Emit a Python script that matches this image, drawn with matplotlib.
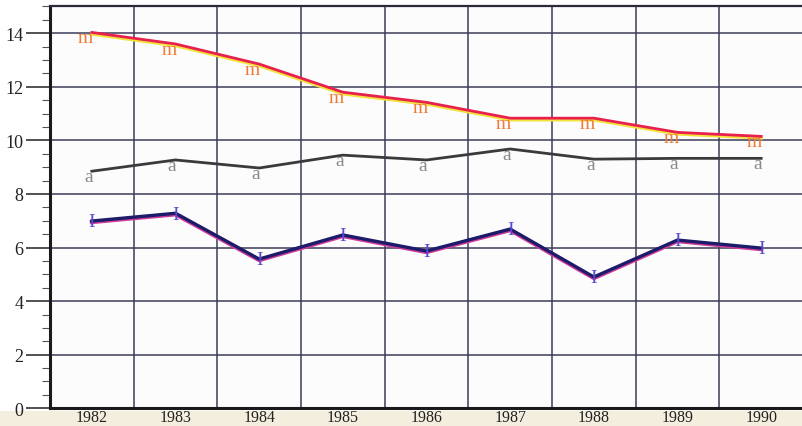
import matplotlib
matplotlib.use("Agg")
import matplotlib.pyplot as plt
from matplotlib.patches import Rectangle
from matplotlib.ticker import MultipleLocator
import numpy as np

# -------------------------
# Data
# -------------------------
years = [1982, 1983, 1984, 1985, 1986, 1987, 1988, 1989, 1990]
m_vals = [14.03, 13.6, 12.85, 11.8, 11.42, 10.83, 10.83, 10.3, 10.15]
a_vals = [8.85, 9.27, 8.97, 9.45, 9.27, 9.68, 9.3, 9.33, 9.33]
i_vals = [6.99, 7.28, 5.57, 6.47, 5.87, 6.69, 4.9, 6.28, 5.98]
y_ticks = [0, 2, 4, 6, 8, 10, 12, 14]

serif = ["Liberation Serif", "DejaVu Serif"]
grid_col = "#3c3c58"

fig = plt.figure(figsize=(8.03, 4.27), dpi=100)
fig.patch.set_facecolor("white")
# beige paper strip under the axis
fig.add_artist(Rectangle((0, 0), 1, 0.035, transform=fig.transFigure,
                         facecolor="#f3eedd", edgecolor="none", zorder=0))

ax = fig.add_axes([0.0623, 0.0415, 0.9377, 0.941])
ax.set_facecolor("#fcfcfc")
ax.set_xlim(1981.5, 1990.5)
ax.set_ylim(0, 15)

# grid: horizontal at every 2, vertical between years
for v in y_ticks[1:]:
    ax.axhline(v, color=grid_col, lw=1.1, zorder=1)
for x in np.arange(1982.5, 1990.5, 1.0):
    ax.axvline(x, color=grid_col, lw=1.1, zorder=1)

# -------------------------
# Series (scan shows colour fringes, so draw a shadow line first)
# -------------------------
yr = np.array(years, dtype=float)
ax.plot(yr, np.array(m_vals) - 0.06, color="#f2e23a", lw=2.4, zorder=3)
ax.plot(yr, m_vals, color="#e8204e", lw=2.0, zorder=4)

ax.plot(yr, a_vals, color="#3a3a3a", lw=2.0, zorder=4)

ax.plot(yr, np.array(i_vals) - 0.04, color="#d03a9a", lw=3.0, zorder=3)
ax.plot(yr, i_vals, color="#1c1c6a", lw=2.4, zorder=4)

# letter markers: lowercase letters hang just under the point
for x, v in zip(years, m_vals):
    ax.text(x - 0.08, v - 0.36, "m", color="#f07a35", fontsize=14, family=serif,
            ha="center", va="baseline", zorder=5)
for x, v in zip(years, a_vals):
    ax.text(x - 0.04, v - 0.36, "a", color="#8a8a8a", fontsize=14, family=serif,
            ha="center", va="baseline", zorder=5)
for x, v in zip(years, i_vals):
    ax.text(x, v - 0.03, "I", color="#5a4ad0", fontsize=14, family=serif,
            ha="center", va="center", zorder=5)

# -------------------------
# Axes styling
# -------------------------
ax.set_yticks(y_ticks)
ax.yaxis.set_minor_locator(MultipleLocator(0.5))
ax.tick_params(axis="y", which="major", length=17, width=1.2, color="#333333",
               pad=2, labelsize=13)
ax.tick_params(axis="y", which="minor", length=6, width=0.8, color="#555555")
ax.set_xticks(years)
ax.set_xticklabels([str(y) for y in years])
ax.tick_params(axis="x", length=0, pad=0.5, labelsize=11.5)
for lab in ax.get_xticklabels() + ax.get_yticklabels():
    lab.set_family(serif)
    lab.set_color("#222222")

for side in ["left", "bottom"]:
    ax.spines[side].set_linewidth(2.2)
    ax.spines[side].set_color("#1a1a1a")
ax.spines["top"].set_linewidth(1.6)
ax.spines["top"].set_color("#2a2a3a")
ax.spines["right"].set_visible(False)

fig.savefig("out.png", dpi=100)
